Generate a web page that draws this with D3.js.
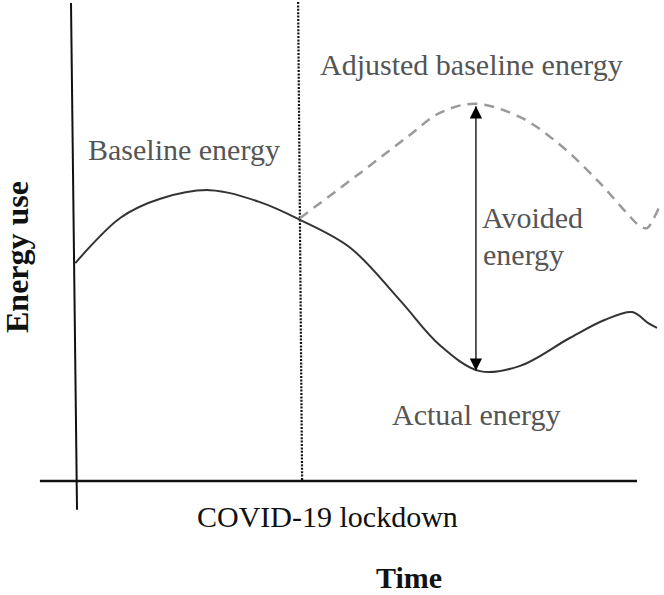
<!DOCTYPE html>
<html>
<head>
<meta charset="utf-8">
<script src="https://cdn.jsdelivr.net/npm/d3@7/dist/d3.min.js"></script>
<style>
  html, body { margin: 0; padding: 0; background: #fff; }
  svg { display: block; }
  text { font-family: "Liberation Serif", "Times New Roman", serif; }
</style>
</head>
<body>
<svg id="chart" width="664" height="595"></svg>
<script>
// ---- data (time in arbitrary units 0-100, energy in arbitrary units 0-100) ----
const actualTime   = [0.9, 8.5, 15.3, 23.7, 32.2, 39.0, 47.5, 55.9, 62.7, 69.5, 76.3, 84.7, 90.7, 95.3, 98.0, 99.5];
const actualEnergy = [45.6, 55.0, 59.0, 60.8, 58.3, 54.6, 48.8, 37.9, 28.5, 23.1, 24.2, 30.0, 33.8, 35.4, 33.1, 32.1];
const adjustedTime   = [39.0, 49.2, 57.6, 62.7, 68.6, 76.3, 83.1, 89.8, 94.4, 96.6, 97.8, 98.8, 100];
const adjustedEnergy = [55.0, 64.4, 72.3, 76.9, 78.8, 76.0, 70.2, 62.3, 56.0, 53.3, 52.9, 54.6, 57.7];
const lockdownTime = 39;
const avoidedTime = 68.8;
const avoidedRange = [78.3, 23.2];
const labels = {
  adjusted: "Adjusted baseline energy",
  baseline: "Baseline energy",
  avoided: ["Avoided", "energy"],
  actual: "Actual energy",
  lockdown: "COVID-19 lockdown",
  xTitle: "Time",
  yTitle: "Energy use"
};

const svg = d3.select("#chart");
const x = d3.scaleLinear().domain([0, 100]).range([70, 660]);
const y = d3.scaleLinear().domain([0, 100]).range([482, 2]);

const actual = actualTime.map((t, i) => [t, actualEnergy[i]]);
const adjusted = adjustedTime.map((t, i) => [t, adjustedEnergy[i]]);

const line = d3.line().x(d => x(d[0])).y(d => y(d[1])).curve(d3.curveCatmullRom.alpha(0.5));

// axes (plain lines, as in the concept diagram)
svg.append("line")
  .attr("x1", x(0.17)).attr("y1", y(99.8))
  .attr("x2", x(1.19)).attr("y2", y(-5.8))
  .attr("stroke", "#111").attr("stroke-width", 2);
svg.append("line")
  .attr("x1", x(-5.1)).attr("y1", y(0.2))
  .attr("x2", x(96.1)).attr("y2", y(0.2))
  .attr("stroke", "#111").attr("stroke-width", 2.5);

// lockdown dotted line
svg.append("line")
  .attr("x1", x(lockdownTime) - 2).attr("y1", y(100))
  .attr("x2", x(lockdownTime) + 2).attr("y2", y(0.4))
  .attr("stroke", "#111").attr("stroke-width", 2.2)
  .attr("stroke-dasharray", "2,1.4");

// adjusted baseline (dashed)
svg.append("path").datum(adjusted)
  .attr("d", line)
  .attr("fill", "none")
  .attr("stroke", "#9a9a9a").attr("stroke-width", 2.5)
  .attr("stroke-dasharray", "10,7");

// baseline + actual (solid)
svg.append("path").datum(actual)
  .attr("d", line)
  .attr("fill", "none")
  .attr("stroke", "#333").attr("stroke-width", 2);

// avoided energy double arrow
const defs = svg.append("defs");
defs.append("marker").attr("id", "head")
  .attr("viewBox", "0 0 14 16").attr("refX", 14).attr("refY", 7)
  .attr("markerWidth", 16).attr("markerHeight", 14)
  .attr("markerUnits", "userSpaceOnUse")
  .attr("orient", "auto-start-reverse")
  .append("path").attr("d", "M0,0 L14,7 L0,14 Z").attr("fill", "#000");
svg.append("line")
  .attr("x1", x(avoidedTime)).attr("y1", y(avoidedRange[0]))
  .attr("x2", x(avoidedTime)).attr("y2", y(avoidedRange[1]))
  .attr("stroke", "#333").attr("stroke-width", 1.6)
  .attr("marker-start", "url(#head)")
  .attr("marker-end", "url(#head)");

// annotations
const gray = "#555";
const txt = (s, px, py, opts = {}) => svg.append("text")
  .attr("x", px).attr("y", py)
  .attr("font-size", opts.size || 30)
  .attr("font-weight", opts.weight || "normal")
  .attr("fill", opts.fill || gray)
  .attr("text-anchor", opts.anchor || "start")
  .text(s);

txt(labels.adjusted, 320, 75);
txt(labels.baseline, 88, 160);
txt(labels.avoided[0], 482, 228);
txt(labels.avoided[1], 483, 265);
txt(labels.actual, 392, 425);
txt(labels.lockdown, 197, 527, { fill: "#111" });
txt(labels.xTitle, 376, 588, { fill: "#111", weight: "bold" });

svg.append("text")
  .attr("transform", "translate(28,257) rotate(-90)")
  .attr("text-anchor", "middle")
  .attr("font-size", 32).attr("font-weight", "bold").attr("fill", "#111")
  .text(labels.yTitle);
</script>
</body>
</html>
